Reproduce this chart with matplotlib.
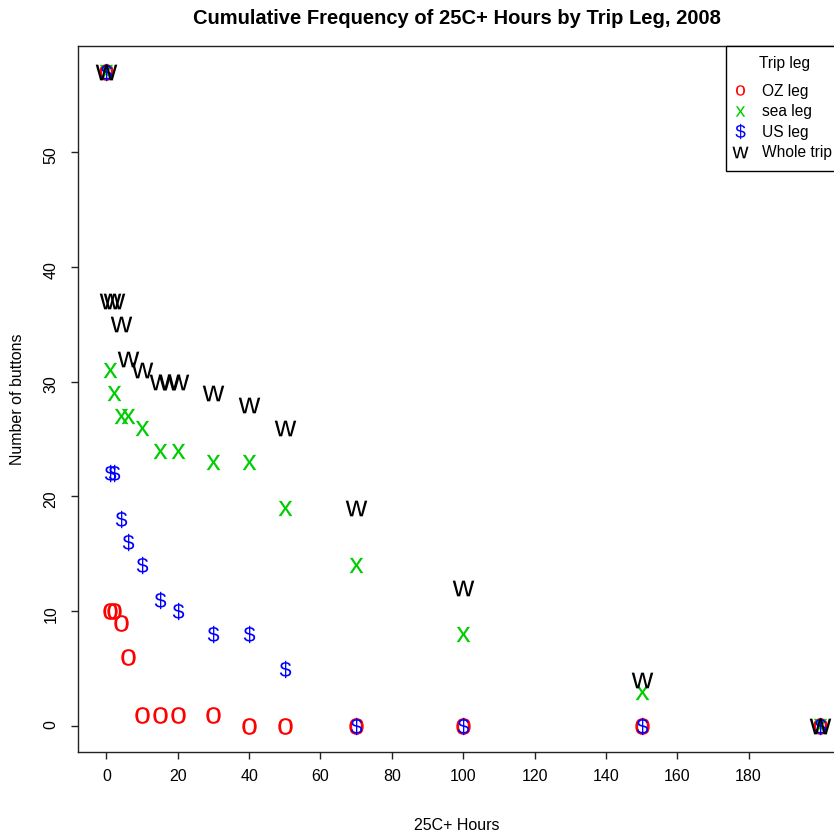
import numpy as np
import matplotlib.pyplot as plt
from matplotlib.lines import Line2D

plt.rcParams['font.family'] = ['Liberation Sans', 'DejaVu Sans']
plt.rcParams['mathtext.fontset'] = 'custom'
plt.rcParams['mathtext.rm'] = 'Liberation Sans'

# hours thresholds and number of buttons at or above them
hours = [0, 1, 2, 4, 6, 10, 15, 20, 30, 40, 50, 70, 100, 150, 200]
oz_leg = [57, 10, 10, 9, 6, 1, 1, 1, 1, 0, 0, 0, 0, 0, 0]
sea_leg = [57, 31, 29, 27, 27, 26, 24, 24, 23, 23, 19, 14, 8, 3, 0]
us_leg = [57, 22, 22, 18, 16, 14, 11, 10, 8, 8, 5, 0, 0, 0, 0]
whole_hours = [0, 1, 2, 4, 6, 10, 15, 17.5, 20, 30, 40, 50, 70, 100, 150, 200]
whole_trip = [57, 37, 37, 35, 32, 31, 30, 30, 30, 29, 28, 26, 19, 12, 4, 0]

legend_labels = ['OZ leg', 'sea leg', 'US leg', 'Whole trip']
x_ticks = list(range(0, 181, 20))
y_ticks = list(range(0, 51, 10))

W, H = 834, 836
fig = plt.figure(figsize=(W / 100, H / 100), dpi=100)
left, right, top, bottom = 77.9, 836, 45.5, 752.2
ax = fig.add_axes([left / W, 1 - bottom / H, (right - left) / W, (bottom - top) / H])

# character symbols like R's pch
sym_o = r'$\mathrm{o}$'
sym_x = r'$\mathrm{x}$'
sym_d = r'$\mathrm{\$}$'
sym_w = r'$\mathrm{w}$'

ax.scatter(hours, oz_leg, marker=sym_o, s=12**2, color='red', linewidths=0)
ax.scatter(hours, sea_leg, marker=sym_x, s=11**2, color='#00CD00', linewidths=0)
ax.scatter(hours, us_leg, marker=sym_d, s=12.5**2, color='blue', linewidths=0)
ax.scatter(whole_hours, whole_trip, marker=sym_w, s=15.5**2, color='black', linewidths=0)

ax.set_xlim(-8, 204.5)
ax.set_ylim(-2.28, 59.28)
ax.set_xticks(x_ticks)
ax.set_yticks(y_ticks)
ax.tick_params(direction='out', length=5, width=1, labelsize=11.5, pad=7, color='#222222')
ax.tick_params(axis='y', labelrotation=90, pad=9)
for sp in ax.spines.values():
    sp.set_linewidth(1.0)
    sp.set_color('#222222')

handles = [
    Line2D([], [], ls='none', marker=sym_o, color='red', markersize=7.5, markeredgewidth=0),
    Line2D([], [], ls='none', marker=sym_x, color='#00CD00', markersize=7.5, markeredgewidth=0),
    Line2D([], [], ls='none', marker=sym_d, color='blue', markersize=11, markeredgewidth=0),
    Line2D([], [], ls='none', marker=sym_w, color='black', markersize=11.5, markeredgewidth=0),
]
leg = ax.legend(handles, legend_labels, title='Trip leg', loc='upper right',
                bbox_to_anchor=(1, 1), borderaxespad=0, fancybox=False,
                edgecolor='black', framealpha=1, fontsize=11.2, title_fontsize=11.2,
                handlelength=0.5, handletextpad=1.15, borderpad=0.7, labelspacing=0.35)
leg.get_frame().set_linewidth(1.0)
leg._legend_box.sep = 9

# push the legend so its left edge sits where the reference box starts
fig.canvas.draw()
lb = leg.get_window_extent()
shift = 725.7 - lb.x0
ax_w = (right - left)
leg.set_bbox_to_anchor((1 + shift / ax_w, 1), transform=ax.transAxes)

cx = (left + right) / 2
fig.text(cx / W, 1 - 18 / H, 'Cumulative Frequency of 25C+ Hours by Trip Leg, 2008',
         ha='center', va='center', fontsize=14.5, fontweight='bold')
fig.text(cx / W, 1 - 826 / H, '25C+ Hours', ha='center', va='center', fontsize=11.5)
fig.text(18 / W, 1 - (top + bottom) / 2 / H, 'Number of buttons', rotation=90,
         ha='center', va='center', fontsize=11.5)

fig.savefig('out.png', dpi=100)
